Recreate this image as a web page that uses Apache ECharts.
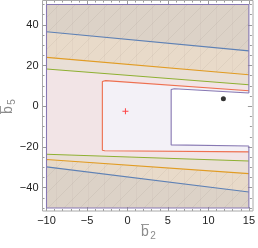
<!DOCTYPE html>
<html><head><meta charset="utf-8">
<script src="https://cdn.jsdelivr.net/npm/echarts@6/dist/echarts.min.js"></script>
<style>html,body{margin:0;padding:0;background:#fff}#c{width:258px;height:248px}</style>
</head><body><div id="c"></div>
<script>
// ---- data ----
const xRange = [-10, 15];
const yRange = [-50, 50];
const xTickLabels = [-10, -5, 0, 5, 10, 15];
const yTickLabels = [-40, -20, 0, 20, 40];
const blueTop = [[-10, 36.6], [15, 27.2]];
const blueBottom = [[-10, -29.8], [15, -42.1]];
const orangeTop = [[-10, 24.0], [15, 15.5]];
const orangeBottom = [[-10, -26.2], [15, -33.1]];
const greenTop = [[-10, 18.3], [15, 10.6]];
const greenBottom = [[-10, -23.6], [15, -26.9]];
const redHole = [[15, 7.6], [-2.7, 12.6], [-3.1, 12.2], [-3.1, -21.6], [-2.8, -21.9], [15, -22.4]];
const purpleHole = [[15, 6.5], [5.8, 8.6], [5.4, 8.2], [5.4, -19.0], [15, -19.5]];
const crossPoint = [[-0.25, -2.5]];
const dotPoint = [[11.85, 3.7]];

const C = {blue:'#5E81B5', orange:'#E19C24', green:'#8FB032', red:'#EB6235', purple:'#8778B3'};
const X0 = xRange[0], X1 = xRange[1], Y0 = yRange[0], Y1 = yRange[1];

function upper(line){ return line.concat([[X1, Y1], [X0, Y1]]); }
function lower(line){ return line.concat([[X1, Y0], [X0, Y0]]); }
function outside(hole){ return [[X0, Y0], [X1, Y0]].concat(hole.slice().reverse(), [[X1, Y1], [X0, Y1]]); }

// faint mesh pattern
const pc = document.createElement('canvas'); pc.width = 16; pc.height = 16;
const g = pc.getContext('2d');
g.strokeStyle = 'rgba(110,100,90,0.09)'; g.lineWidth = 1;
g.beginPath(); g.moveTo(-1, 17); g.lineTo(17, -1); g.stroke();
g.beginPath(); g.moveTo(8.5, 0); g.lineTo(8.5, 16); g.strokeStyle = 'rgba(110,100,90,0.05)'; g.stroke();

function polySeries(polys, fill, z){
  return {
    type: 'custom', xAxisIndex: 0, yAxisIndex: 0, z: z, silent: true,
    data: [0],
    renderItem: function(params, api){
      return {type: 'group', children: polys.map(function(p){
        return {type: 'polygon', shape: {points: p.map(function(q){ return api.coord(q); })},
          style: {fill: fill, stroke: null}};
      })};
    }
  };
}
function lineSeries(data, color, z){
  return {type: 'line', data: data, xAxisIndex: 0, yAxisIndex: 0, showSymbol: false, symbol: 'none',
    clip: false, z: z, silent: true, lineStyle: {color: color, width: 1.1}};
}

function rgba(hex, a){ const n = parseInt(hex.slice(1), 16); return 'rgba(' + (n>>16) + ',' + ((n>>8)&255) + ',' + (n&255) + ',' + a + ')'; }

const series = [
  polySeries([outside(purpleHole)], rgba(C.purple, 0.1), 1),
  polySeries([outside(redHole)], rgba(C.red, 0.09), 2),
  polySeries([upper(greenTop), lower(greenBottom)], rgba(C.green, 0.085), 3),
  polySeries([upper(orangeTop), lower(orangeBottom)], rgba(C.orange, 0.075), 4),
  polySeries([upper(blueTop), lower(blueBottom)], rgba(C.blue, 0.085), 5),
  polySeries([upper(orangeTop), lower(orangeBottom)], {image: pc, repeat: 'repeat'}, 6),
  lineSeries(blueTop, C.blue, 10), lineSeries(blueBottom, C.blue, 10),
  lineSeries(orangeTop, C.orange, 10), lineSeries(orangeBottom, C.orange, 10),
  lineSeries(greenTop, C.green, 10), lineSeries(greenBottom, C.green, 10),
  lineSeries(redHole, '#EE7050', 11),
  lineSeries(purpleHole, C.purple, 12),
  lineSeries([[X1, purpleHole[0][1]], [X1, Y1], [X0, Y1], [X0, Y0], [X1, Y0], [X1, purpleHole[purpleHole.length - 1][1]]], C.purple, 12),
  {type: 'scatter', data: crossPoint, xAxisIndex: 0, yAxisIndex: 0, z: 20, silent: true,
   symbol: 'path://M2.5,0h1v2.5h2.5v1h-2.5v2.5h-1v-2.5h-2.5v-1h2.5z', symbolSize: 6, itemStyle: {color: '#ff1a1a'}},
  {type: 'scatter', data: dotPoint, xAxisIndex: 0, yAxisIndex: 0, z: 20, silent: true,
   symbol: 'circle', symbolSize: 5, itemStyle: {color: '#000'}}
];

const tickCol = '#9a9a9a';
const lblStyle = {color: '#222', fontSize: 11, fontFamily: 'Liberation Sans, Arial, sans-serif'};
const fmt = function(v){ return String(v).replace('-', '\u2212'); };
function xAx(pos, off, major, labels){
  return {type: 'value', position: pos, offset: off, min: X0, max: X1, interval: major ? 5 : 1,
    axisLine: {show: false, onZero: false}, splitLine: {show: false},
    axisTick: major ? {show: true, inside: true, length: 4, customValues: xTickLabels, lineStyle: {color: tickCol}}
                    : {show: true, inside: true, length: 2, lineStyle: {color: tickCol}},
    axisLabel: labels ? Object.assign({show: true, margin: 4, customValues: xTickLabels, formatter: fmt}, lblStyle) : {show: false}};
}
function yAx(pos, off, major, labels){
  return {type: 'value', position: pos, offset: off, min: Y0, max: Y1, interval: major ? 10 : 5,
    axisLine: {show: false, onZero: false}, splitLine: {show: false},
    axisTick: major ? {show: true, inside: true, length: 4, customValues: yTickLabels, lineStyle: {color: tickCol}}
                    : {show: true, inside: true, length: 2, lineStyle: {color: tickCol}},
    axisLabel: labels ? Object.assign({show: true, margin: 4, customValues: yTickLabels, formatter: fmt}, lblStyle) : {show: false}};
}

const titleFill = '#8c8c8c';
function axisTitle(x, y, rot, sub){
  return {type: 'group', x: x, y: y, rotation: rot, z: 50, children: [
    {type: 'text', x: -3, y: 0, style: {text: 'b', fill: titleFill, font: '14px Liberation Sans', textAlign: 'center', textVerticalAlign: 'middle'}},
    {type: 'line', shape: {x1: -7, y1: -7.5, x2: 1, y2: -7.5}, style: {stroke: titleFill, lineWidth: 0.9}},
    {type: 'text', x: 5, y: 4, style: {text: sub, fill: titleFill, font: '10px Liberation Sans', textAlign: 'center', textVerticalAlign: 'middle'}}
  ]};
}

const option = {
  animation: false,
  grid: {left: 46.5, right: 7.7, top: 4.5, bottom: 40, containLabel: false},
  xAxis: [xAx('bottom', 3, true, true), xAx('bottom', 3, false, false), xAx('top', 4, true, false), xAx('top', 4, false, false)],
  yAxis: [yAx('left', 4, true, true), yAx('left', 4, false, false), yAx('right', 3, true, false), yAx('right', 3, false, false)],
  graphic: [
    {type: 'rect', shape: {x: 42.5, y: 0.5, width: 210.5, height: 210.5}, style: {fill: null, stroke: '#a8a8a8', lineWidth: 1}, z: 50, silent: true},
    axisTitle(148, 232, 0, '2'),
    axisTitle(8, 107, Math.PI / 2, '5')
  ],
  series: series
};
const chart = echarts.init(document.getElementById('c'), null, {renderer: 'canvas'});
chart.setOption(option);
</script></body></html>
